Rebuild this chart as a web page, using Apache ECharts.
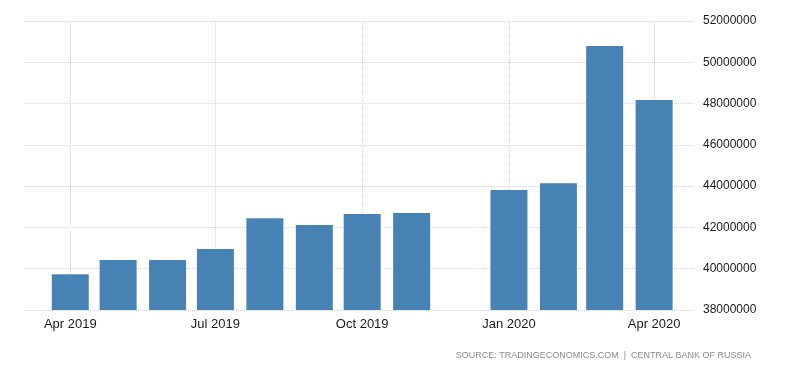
<!DOCTYPE html>
<html>
<head>
<meta charset="utf-8">
<script src="https://cdn.jsdelivr.net/npm/echarts@6/dist/echarts.min.js"></script>
<style>
html,body{margin:0;padding:0;background:#fff;}
#chart{width:800px;height:373px;}
</style>
</head>
<body>
<div id="chart"></div>
<script>
// Months (Dec 2019 has no value in the source)
var months = ['2019-04-01','2019-05-01','2019-06-01','2019-07-01','2019-08-01','2019-09-01','2019-10-01','2019-11-01','2020-01-01','2020-02-01','2020-03-01','2020-04-01'];
var values = [39730000, 40420000, 40420000, 40960000, 42440000, 42120000, 42650000, 42700000, 43810000, 44140000, 50790000, 48170000];
var xTicks = ['2019-04-01','2019-07-01','2019-10-01','2020-01-01','2020-04-01'];
var yMin = 38000000, yMax = 52000000, yStep = 2000000;
var sourceText = 'SOURCE: TRADINGECONOMICS.COM  |  CENTRAL BANK OF RUSSIA';

function toDate(s){ var p = s.split('-'); return Date.UTC(+p[0], +p[1]-1, +p[2]); }
var monthNames = ['Jan','Feb','Mar','Apr','May','Jun','Jul','Aug','Sep','Oct','Nov','Dec'];
var tickTimes = xTicks.map(toDate);
var seriesData = months.map(function(m,i){ return [toDate(m), values[i]]; });

var chart = echarts.init(document.getElementById('chart'), null, {renderer:'canvas'});
chart.setOption({
  animation:false,
  backgroundColor:'#fff',
  grid:{left:24, right:106, top:21, bottom:63, containLabel:false},
  xAxis:{
    type:'value',
    min: Date.UTC(2019,2,3),
    max: Date.UTC(2020,3,26),
    axisLine:{show:false},
    axisTick:{show:false, customValues: tickTimes},
    axisLabel:{
      customValues: tickTimes,
      color:'#1a1a1a', fontFamily:'Liberation Sans', fontSize:13, margin:8,
      formatter:function(v){ var d=new Date(v); return monthNames[d.getUTCMonth()]+' '+d.getUTCFullYear(); }
    },
    splitLine:{show:true, lineStyle:{color:'#d9d9d9', type:'dotted', width:1}}
  },
  yAxis:{
    type:'value', position:'right', min:yMin, max:yMax, interval:yStep,
    axisLine:{show:false}, axisTick:{show:false},
    axisLabel:{color:'#1a1a1a', fontFamily:'Liberation Sans', fontSize:12, margin:9,
      formatter:function(v){ return String(v); }},
    splitLine:{show:true, lineStyle:{color:'#d9d9d9', type:'dotted', width:1}}
  },
  graphic:[{
    type:'text', right:49, top:351,
    style:{text:sourceText, fill:'#8a8a8a', font:'9px "Liberation Sans"'}
  }],
  series:[{
    type:'bar', data:seriesData, barWidth:37,
    itemStyle:{color:'#4682b4'}
  }]
});
</script>
</body>
</html>
